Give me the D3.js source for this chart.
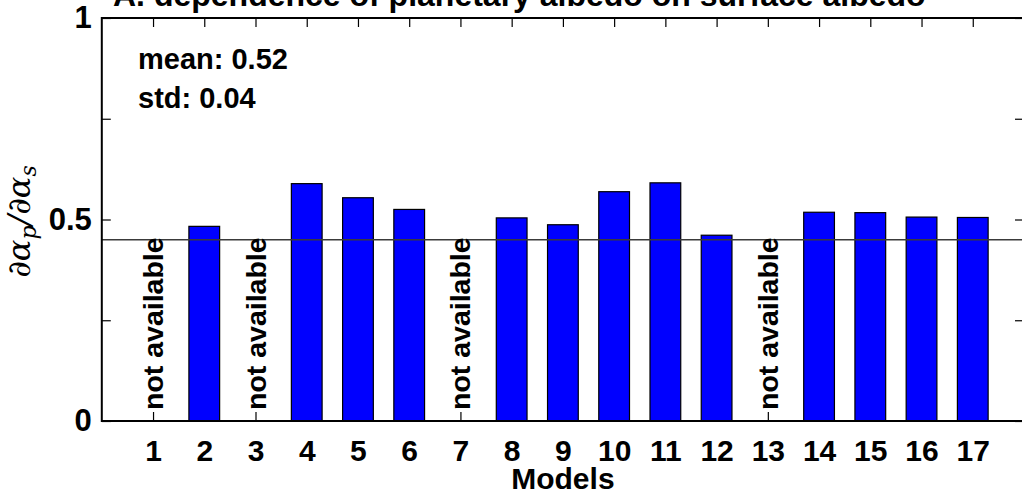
<!DOCTYPE html>
<html>
<head>
<meta charset="utf-8">
<script src="https://cdn.jsdelivr.net/npm/d3@7"></script>
<style>
  html, body { margin: 0; padding: 0; background: #fff; }
  svg { display: block; }
  text { font-family: "Liberation Sans", Arial, Helvetica, sans-serif; font-weight: bold; fill: #000; }
</style>
</head>
<body>
<svg id="chart" width="1022" height="496"></svg>
<script>
// Model numbers along the x axis
const models = ["1","2","3","4","5","6","7","8","9","10","11","12","13","14","15","16","17"];
// d(planetary albedo)/d(surface albedo) per model; null = not available
const albedoSensitivity = [null, 0.483, null, 0.589, 0.554, 0.525, null, 0.504, 0.487,
                           0.569, 0.591, 0.461, null, 0.518, 0.517, 0.506, 0.505];
// y axis ticks and their labels
const yTicks = [0, 0.25, 0.5, 0.75, 1];
const yTickLabels = ["0", "", "0.5", "", "1"];
// horizontal reference level
const referenceLevel = [0.45];
// summary statistics printed in the panel
const statLines = ["mean: 0.52", "std: 0.04"];
const titleText = "A. dependence of planetary albedo on surface albedo";
const xTitle = "Models";
const missingLabel = "not available";

const svg = d3.select("#chart");
const plotLeft = 101.8, plotRight = 1024, plotTop = 18, plotBottom = 421;

const x = d3.scaleLinear().domain([0, models.length + 1]).range([plotLeft, plotRight]);
const y = d3.scaleLinear().domain([0, 1]).range([plotBottom, plotTop]);
const barW = 0.6;
const tickLen = 9;

// tick marks on all four sides, pointing inward
const xTickVals = models.map((m, i) => i + 1);
svg.append("g").attr("transform", `translate(0,${plotBottom})`)
  .call(d3.axisBottom(x).tickValues(xTickVals).tickSize(-tickLen).tickPadding(19)
        .tickFormat((d, i) => models[i]))
  .call(g => g.select(".domain").remove())
  .call(g => g.selectAll("line").attr("stroke", "#000").attr("stroke-width", 1.2))
  .call(g => g.selectAll("text").attr("font-size", 30).attr("font-family", null).attr("dy", "0.71em"));

svg.append("g").attr("transform", `translate(0,${plotTop})`)
  .call(d3.axisTop(x).tickValues(xTickVals).tickSize(-tickLen).tickFormat(""))
  .call(g => g.select(".domain").remove())
  .call(g => g.selectAll("line").attr("stroke", "#000").attr("stroke-width", 1.2));

svg.append("g").attr("transform", `translate(${plotLeft},0)`)
  .call(d3.axisLeft(y).tickValues(yTicks).tickSize(-tickLen).tickPadding(10)
        .tickFormat((d, i) => yTickLabels[i]))
  .call(g => g.select(".domain").remove())
  .call(g => g.selectAll("line").attr("stroke", "#000").attr("stroke-width", 1.2))
  .call(g => g.selectAll("text").attr("font-size", 31).attr("font-family", null));

svg.append("g").attr("transform", `translate(${plotRight},0)`)
  .call(d3.axisRight(y).tickValues(yTicks).tickSize(-tickLen).tickFormat(""))
  .call(g => g.select(".domain").remove())
  .call(g => g.selectAll("line").attr("stroke", "#000").attr("stroke-width", 1.2));

// bars
const barData = albedoSensitivity.map((v, i) => ({ i: i + 1, v }));
svg.append("g").selectAll("rect")
  .data(barData.filter(d => d.v !== null))
  .join("rect")
  .attr("x", d => x(d.i - barW / 2))
  .attr("width", d => x(barW) - x(0))
  .attr("y", d => y(d.v))
  .attr("height", d => y(0) - y(d.v))
  .attr("fill", "#0000ff")
  .attr("stroke", "#000")
  .attr("stroke-width", 1.2);

// reference level line
svg.append("g").selectAll("line")
  .data(referenceLevel)
  .join("line")
  .attr("x1", plotLeft).attr("x2", plotRight)
  .attr("y1", d => y(d)).attr("y2", d => y(d))
  .attr("stroke", "#3a3a3a").attr("stroke-width", 1.5);

// labels for missing models
svg.append("g").selectAll("text")
  .data(barData.filter(d => d.v === null))
  .join("text")
  .attr("transform", d => `translate(${x(d.i)},${y(0) - 11}) rotate(-90)`)
  .attr("dominant-baseline", "central")
  .attr("font-size", 28.5)
  .text(missingLabel);

// axes box
svg.append("rect")
  .attr("x", plotLeft).attr("y", plotTop)
  .attr("width", plotRight - plotLeft).attr("height", plotBottom - plotTop)
  .attr("fill", "none").attr("stroke", "#000").attr("stroke-width", 2);

// statistics
svg.append("g").selectAll("text")
  .data(statLines)
  .join("text")
  .attr("x", 138)
  .attr("y", (d, i) => 69 + i * 39)
  .attr("font-size", 29)
  .text(d => d);

// title (partly above the frame)
svg.append("text")
  .attr("x", 113).attr("y", 6)
  .attr("font-size", 32)
  .text(titleText);

// x axis title
svg.append("text")
  .attr("x", (plotLeft + plotRight) / 2).attr("y", 489)
  .attr("text-anchor", "middle")
  .attr("font-size", 30)
  .text(xTitle);

// y axis title: d alpha_p / d alpha_s
const yl = svg.append("text")
  .attr("transform", `translate(30,${(plotTop + plotBottom) / 2 + 2}) rotate(-90)`)
  .attr("text-anchor", "middle")
  .style("font-family", "'DejaVu Serif','Liberation Serif',serif")
  .style("font-weight", "normal")
  .style("font-style", "italic")
  .attr("font-size", 32);
yl.append("tspan").text("\u2202\u03b1");
yl.append("tspan").attr("font-size", 22).attr("dy", 6).text("p");
yl.append("tspan").attr("dy", -6).text("/\u2202\u03b1");
yl.append("tspan").attr("font-size", 22).attr("dy", 6).text("s");
</script>
</body>
</html>
